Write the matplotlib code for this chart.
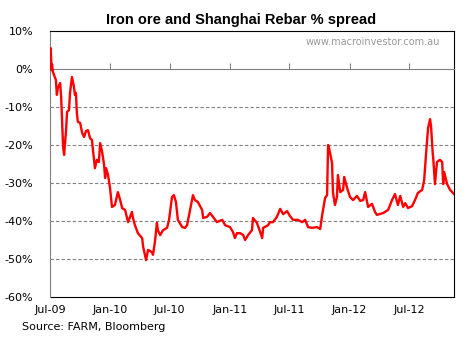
import matplotlib
matplotlib.use('Agg')
import matplotlib.pyplot as plt
import matplotlib.dates as mdates
from matplotlib.ticker import FuncFormatter
import pandas as pd

# iron ore vs Shanghai rebar spread (% values)
dates = [
    '2009-07-01', '2009-07-03', '2009-07-06', '2009-07-07', '2009-07-10', '2009-07-19',
    '2009-07-22', '2009-07-25', '2009-08-01', '2009-08-04', '2009-08-10', '2009-08-13',
    '2009-08-19', '2009-08-22', '2009-08-28', '2009-08-31', '2009-09-06', '2009-09-12',
    '2009-09-15', '2009-09-18', '2009-09-21', '2009-09-24', '2009-10-01', '2009-10-07',
    '2009-10-13', '2009-10-19', '2009-10-25', '2009-10-31', '2009-11-06', '2009-11-09',
    '2009-11-15', '2009-11-21', '2009-11-27', '2009-12-01', '2009-12-07', '2009-12-13',
    '2009-12-16', '2009-12-19', '2009-12-25', '2009-12-31', '2010-01-06', '2010-01-15',
    '2010-01-24', '2010-01-31', '2010-02-06', '2010-02-15', '2010-02-24', '2010-03-08',
    '2010-03-11', '2010-03-17', '2010-03-26', '2010-04-08', '2010-04-11', '2010-04-20',
    '2010-04-26', '2010-05-08', '2010-05-11', '2010-05-17', '2010-05-23', '2010-05-26',
    '2010-06-02', '2010-06-11', '2010-06-23', '2010-06-29', '2010-07-08', '2010-07-14',
    '2010-07-20', '2010-07-26', '2010-08-08', '2010-08-17', '2010-08-23', '2010-08-29',
    '2010-09-07', '2010-09-10', '2010-09-16', '2010-09-25', '2010-10-08', '2010-10-11',
    '2010-10-23', '2010-11-01', '2010-11-10', '2010-11-22', '2010-12-08', '2010-12-17',
    '2011-01-01', '2011-01-10', '2011-01-16', '2011-01-22', '2011-02-01', '2011-02-10',
    '2011-02-16', '2011-02-25', '2011-03-09', '2011-03-12', '2011-03-24', '2011-04-03',
    '2011-04-09', '2011-04-12', '2011-04-27', '2011-05-03', '2011-05-12', '2011-05-24',
    '2011-06-03', '2011-06-12', '2011-06-24', '2011-07-03', '2011-07-12', '2011-07-27',
    '2011-08-09', '2011-08-18', '2011-08-27', '2011-09-08', '2011-09-23', '2011-10-03',
    '2011-10-09', '2011-10-18', '2011-10-24', '2011-10-27', '2011-10-30', '2011-11-08',
    '2011-11-11', '2011-11-17', '2011-11-23', '2011-11-26', '2011-12-03', '2011-12-12',
    '2011-12-15', '2011-12-24', '2012-01-02', '2012-01-11', '2012-01-23', '2012-02-02',
    '2012-02-11', '2012-02-17', '2012-02-26', '2012-03-09', '2012-03-18', '2012-03-24',
    '2012-04-12', '2012-04-27', '2012-05-09', '2012-05-18', '2012-05-27', '2012-06-03',
    '2012-06-12', '2012-06-18', '2012-06-27', '2012-07-09', '2012-07-18', '2012-07-27',
    '2012-08-09', '2012-08-15', '2012-08-21', '2012-08-27', '2012-09-02', '2012-09-05',
    '2012-09-10', '2012-09-12', '2012-09-17', '2012-09-23', '2012-10-02', '2012-10-09',
    '2012-10-12', '2012-10-15', '2012-10-24', '2012-11-02', '2012-11-14',
]
spread = [
    2.9, 5.5, -0.3, 1.3, -0.8, -2.9,
    -6.8, -5.0, -3.7, -7.4, -20.5, -22.6,
    -16.1, -11.3, -10.8, -6.3, -2.1, -4.7,
    -6.8, -6.3, -11.6, -13.9, -14.2, -16.8,
    -17.9, -16.3, -16.1, -18.2, -18.7, -21.3,
    -26.1, -23.9, -24.5, -19.5, -21.8, -25.3,
    -28.7, -26.1, -27.9, -31.3, -36.3, -35.8,
    -32.4, -34.5, -36.6, -37.1, -40.3, -37.6,
    -39.2, -41.1, -43.2, -44.5, -46.8, -50.3,
    -47.6, -48.2, -48.9, -45.5, -40.5, -42.4,
    -43.7, -42.4, -41.8, -39.7, -33.7, -33.2,
    -35.0, -39.7, -41.6, -41.8, -41.1, -38.4,
    -34.5, -33.2, -34.5, -35.0, -37.1, -39.2,
    -38.9, -37.9, -38.9, -40.3, -39.7, -41.1,
    -41.6, -42.9, -44.5, -43.2, -43.2, -43.7,
    -45.0, -43.7, -42.4, -39.2, -40.5, -42.9,
    -44.5, -41.8, -41.1, -40.3, -40.3, -38.9,
    -36.8, -38.2, -37.4, -38.7, -39.7, -39.7,
    -40.3, -39.7, -41.6, -41.8, -41.6, -42.1,
    -38.4, -33.9, -33.2, -20.0, -20.8, -24.7,
    -32.6, -35.8, -33.7, -27.9, -32.4, -31.8,
    -28.4, -31.3, -33.7, -34.5, -33.4, -34.7,
    -34.5, -32.4, -36.3, -35.5, -37.6, -38.4,
    -37.9, -37.1, -34.5, -32.9, -35.8, -33.4,
    -36.3, -35.3, -36.6, -36.1, -34.5, -32.6,
    -31.8, -29.2, -22.1, -15.5, -13.2, -15.0,
    -22.1, -23.9, -30.3, -24.5, -23.9, -24.5,
    -30.3, -27.1, -30.3, -31.8, -32.9,
]
tick_dates = ['2009-07-01', '2010-01-01', '2010-07-01', '2011-01-01',
              '2011-07-01', '2012-01-01', '2012-07-01']
y_ticks = [10, 0, -10, -20, -30, -40, -50, -60]

x = pd.to_datetime(dates)
xt = pd.to_datetime(tick_dates)

fig = plt.figure(figsize=(4.66, 3.45), dpi=100)
ax = fig.add_axes([50 / 466, 48 / 345, 404 / 466, 266 / 345])

for v in y_ticks[2:-1]:
    ax.axhline(v, color='#808080', lw=0.8, ls=(0, (3, 2)), zorder=1)

ax.plot(x, spread, color='#FF0000', lw=1.7, zorder=3)

ax.set_xlim(pd.Timestamp('2009-07-01'), pd.Timestamp('2012-11-14'))
ax.set_ylim(-60, 10)
ax.set_yticks(y_ticks)
ax.yaxis.set_major_formatter(FuncFormatter(lambda v, p: f'{v:.0f}%'))
ax.tick_params(axis='y', length=0, pad=12, labelsize=8)

# x axis crosses at 0 with small upward ticks, labels stay at bottom
ax.spines['bottom'].set_position(('data', 0))
ax.spines['bottom'].set_color('#808080')
ax.set_xticks(xt)
ax.tick_params(axis='x', direction='in', length=4, color='#808080',
               labelbottom=False)
sec = ax.secondary_xaxis(0)
sec.set_xticks(xt)
sec.xaxis.set_major_formatter(mdates.DateFormatter('%b-%y'))
sec.tick_params(length=0, pad=6, labelsize=8)
sec.spines['bottom'].set_color('black')

ax.spines['left'].set_color('#808080')
ax.spines['top'].set_color('black')
ax.spines['right'].set_color('black')

ax.text(0.965, 0.958, 'www.macroinvestor.com.au', transform=ax.transAxes,
        ha='right', va='center', fontsize=7, color='#999999')

fig.text(241.5 / 466, 1 - 20 / 345, 'Iron ore and Shanghai Rebar % spread',
         ha='center', va='center', fontsize=10.5, fontweight='bold',
         family='Liberation Sans')
fig.text(22 / 466, 1 - 327 / 345, 'Source: FARM, Bloomberg',
         ha='left', va='center', fontsize=8)

fig.savefig('out.png', dpi=100, facecolor='white')
